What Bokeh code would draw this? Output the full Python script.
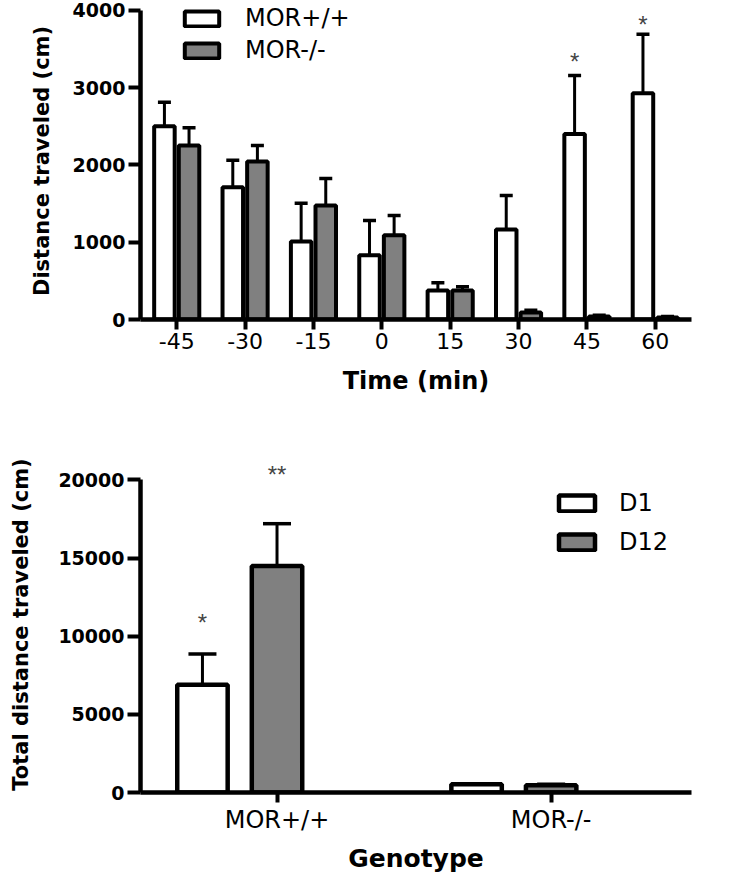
from bokeh.plotting import figure
from bokeh.models import (Range1d, FixedTicker, Whisker, TeeHead, ColumnDataSource,
                          Legend, LegendItem)
from bokeh.layouts import column
from bokeh.embed import file_html
from bokeh.resources import INLINE
from bokeh.core.properties import value

# ---------------- data: top panel ----------------
times = ["-45", "-30", "-15", "0", "15", "30", "45", "60"]
wt_mean = [2500, 1710, 1010, 830, 375, 1165, 2400, 2925]
wt_err = [310, 350, 495, 450, 100, 440, 755, 765]
ko_mean = [2250, 2045, 1475, 1090, 375, 90, 40, 25]
ko_err = [230, 205, 350, 255, 50, 30, 15, 15]
top_star_times = ["45", "60"]
top_star_y = [3405, 3883]
top_yticks = [0, 1000, 2000, 3000, 4000]

# ---------------- data: bottom panel ----------------
genotypes = ["MOR+/+", "MOR-/-"]
d1_mean = [6900, 520]
d1_err = [1970, 30]
d12_mean = [14500, 470]
d12_err = [2700, 60]
bot_star_text = ["*", "**"]
bot_star_y = [11210, 20700]
bot_yticks = [0, 5000, 10000, 15000, 20000]

FONT = "DejaVu Sans"
GRAY = "#808080"


def style_axes(p, ytop):
    for ax in (p.xaxis[0], p.yaxis[0]):
        ax.axis_line_width = 4.5
        ax.axis_line_color = "black"
        ax.major_tick_line_width = 4
        ax.major_tick_in = 0
        ax.minor_tick_line_color = None
        ax.axis_label_text_font = FONT
        ax.axis_label_text_font_style = "bold"
        ax.major_label_text_font = FONT
        ax.major_label_text_color = "black"
        ax.axis_label_text_color = "black"
    p.yaxis[0].bounds = (0, ytop)
    p.xgrid.grid_line_color = None
    p.ygrid.grid_line_color = None
    p.outline_line_color = None
    p.background_fill_color = "white"


# ================= top panel =================
idx = list(range(len(times)))
src1 = ColumnDataSource(dict(
    x_wt=[i - 0.18 for i in idx],
    x_ko=[i + 0.18 for i in idx],
    wt=wt_mean, ko=ko_mean,
    wt_up=[m + e for m, e in zip(wt_mean, wt_err)],
    ko_up=[m + e for m, e in zip(ko_mean, ko_err)],
))

p1 = figure(width=713, height=420, output_backend="svg", toolbar_location=None,
            x_range=Range1d(-0.53, 7.53), y_range=Range1d(0, 4100),
            min_border_left=127, min_border_right=22, min_border_top=2,
            min_border_bottom=101)

for base, low, up in (("x_wt", "wt", "wt_up"), ("x_ko", "ko", "ko_up")):
    p1.add_layout(Whisker(source=src1, base=base, lower=low, upper=up,
                          dimension="height", line_width=3, line_color="black",
                          lower_head=None,
                          upper_head=TeeHead(size=13, line_width=3.5, line_color="black")))

r_wt = p1.vbar(x="x_wt", top="wt", bottom=0, width=0.30, source=src1,
               fill_color="white", line_color="black", line_width=4)
r_ko = p1.vbar(x="x_ko", top="ko", bottom=0, width=0.30, source=src1,
               fill_color=GRAY, line_color="black", line_width=4)

p1.text(x=[times.index(t) - 0.18 for t in top_star_times], y=top_star_y,
        text=["*"] * len(top_star_times), text_font=value("Liberation Sans"),
        text_font_size="24px", text_align="center", text_baseline="middle",
        y_offset=5, text_color="#444444")

style_axes(p1, 4000)
p1.xaxis[0].ticker = FixedTicker(ticks=idx)
p1.xaxis[0].major_label_overrides = {i: t for i, t in enumerate(times)}
p1.xaxis[0].major_tick_out = 10
p1.xaxis[0].major_label_text_font_size = "22px"
p1.xaxis[0].major_label_standoff = 3
p1.xaxis[0].axis_label = "Time (min)"
p1.xaxis[0].axis_label_text_font_size = "24px"
p1.xaxis[0].axis_label_standoff = 15
p1.yaxis[0].ticker = FixedTicker(ticks=top_yticks)
p1.yaxis[0].major_tick_out = 12
p1.yaxis[0].major_label_text_font_size = "19px"
p1.yaxis[0].major_label_text_font_style = "bold"
p1.yaxis[0].major_label_standoff = 3
p1.yaxis[0].axis_label = "Distance traveled (cm)"
p1.yaxis[0].axis_label_text_font_size = "21px"
p1.yaxis[0].axis_label_standoff = 16

leg1 = Legend(items=[LegendItem(label="MOR+/+", renderers=[r_wt]),
                     LegendItem(label="MOR-/-", renderers=[r_ko])],
              location=(40, 255), glyph_width=43, glyph_height=19,
              label_text_font=FONT, label_text_font_size="24px",
              label_text_color="black",
              label_standoff=22, spacing=4, padding=0, margin=0,
              border_line_alpha=0, background_fill_alpha=0)
p1.add_layout(leg1)

# ================= bottom panel =================
gidx = list(range(len(genotypes)))
src2 = ColumnDataSource(dict(
    x_d1=[i - 0.272 for i in gidx],
    x_d12=[float(i) for i in gidx],
    d1=d1_mean, d12=d12_mean,
    d1_up=[m + e for m, e in zip(d1_mean, d1_err)],
    d12_up=[m + e for m, e in zip(d12_mean, d12_err)],
))

p2 = figure(width=713, height=455, output_backend="svg", toolbar_location=None,
            x_range=Range1d(-0.498, 1.512), y_range=Range1d(0, 21500),
            min_border_left=140, min_border_right=4, min_border_top=36,
            min_border_bottom=81)

for base, low, up in (("x_d1", "d1", "d1_up"), ("x_d12", "d12", "d12_up")):
    p2.add_layout(Whisker(source=src2, base=base, lower=low, upper=up,
                          dimension="height", line_width=3, line_color="black",
                          lower_head=None,
                          upper_head=TeeHead(size=28, line_width=3.5, line_color="black")))

r_d1 = p2.vbar(x="x_d1", top="d1", bottom=0, width=0.184, source=src2,
               fill_color="white", line_color="black", line_width=4.5)
r_d12 = p2.vbar(x="x_d12", top="d12", bottom=0, width=0.184, source=src2,
                fill_color=GRAY, line_color="black", line_width=4.5)

p2.text(x=[src2.data["x_d1"][0], src2.data["x_d12"][0]], y=bot_star_y,
        text=bot_star_text, text_font=value("Liberation Sans"),
        text_font_size="24px", text_align="center", text_baseline="middle",
        y_offset=5, text_color="#444444")

style_axes(p2, 20000)
p2.xaxis[0].ticker = FixedTicker(ticks=gidx)
p2.xaxis[0].major_label_overrides = {i: g for i, g in enumerate(genotypes)}
p2.xaxis[0].major_tick_out = 10
p2.xaxis[0].major_label_text_font_size = "24px"
p2.xaxis[0].major_label_standoff = 3
p2.xaxis[0].axis_label = "Genotype"
p2.xaxis[0].axis_label_text_font_size = "25px"
p2.xaxis[0].axis_label_standoff = 7
p2.yaxis[0].ticker = FixedTicker(ticks=bot_yticks)
p2.yaxis[0].major_tick_out = 13
p2.yaxis[0].major_label_text_font_size = "19px"
p2.yaxis[0].major_label_text_font_style = "bold"
p2.yaxis[0].major_label_standoff = 3
p2.yaxis[0].axis_label = "Total distance traveled (cm)"
p2.yaxis[0].axis_label_text_font_size = "21px"
p2.yaxis[0].axis_label_standoff = 22

leg2 = Legend(items=[LegendItem(label="D1", renderers=[r_d1]),
                     LegendItem(label="D12", renderers=[r_d12])],
              location=(414, 236), glyph_width=45, glyph_height=20,
              label_text_font=FONT, label_text_font_size="24px",
              label_text_color="black",
              label_standoff=20, spacing=11, padding=0, margin=0,
              border_line_alpha=0, background_fill_alpha=0)
p2.add_layout(leg2)

layout = column(p1, p2)
open("out.html", "w").write(file_html(layout, INLINE))
